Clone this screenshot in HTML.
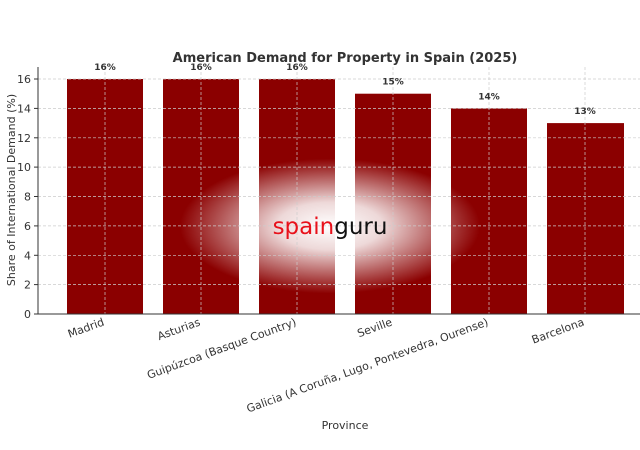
<!DOCTYPE html><html><head><style>body{margin:0;background:#fff}svg{display:block}</style></head><body>
<svg width="640" height="450" xmlns="http://www.w3.org/2000/svg" font-family="DejaVu Sans, Liberation Sans, sans-serif">
<defs><radialGradient id="g" cx="330" cy="226" r="150" gradientUnits="userSpaceOnUse" gradientTransform="translate(330 226) scale(1 0.45) translate(-330 -226)">
<stop offset="0" stop-color="#fff" stop-opacity="1"/><stop offset="0.35" stop-color="#fff" stop-opacity="0.85"/><stop offset="1" stop-color="#fff" stop-opacity="0"/></radialGradient></defs>
<text x="345" y="62" text-anchor="middle" font-size="13" font-weight="bold" fill="#333">American Demand for Property in Spain (2025)</text>
<g fill="#8b0000">
<rect x="67" y="79" width="76" height="235"/><rect x="163" y="79" width="76" height="235"/><rect x="259" y="79" width="76" height="235"/>
<rect x="355" y="93.7" width="76" height="220.3"/><rect x="451" y="108.4" width="76" height="205.6"/><rect x="547" y="123.1" width="77" height="190.9"/></g>
<rect x="150" y="150" width="360" height="150" fill="url(#g)"/>
<g stroke="#ccc" stroke-width="0.7" stroke-dasharray="3,2">
<line x1="38" x2="640" y1="284.6" y2="284.6"/><line x1="38" x2="640" y1="255.3" y2="255.3"/><line x1="38" x2="640" y1="225.9" y2="225.9"/><line x1="38" x2="640" y1="196.5" y2="196.5"/><line x1="38" x2="640" y1="167.1" y2="167.1"/><line x1="38" x2="640" y1="137.8" y2="137.8"/><line x1="38" x2="640" y1="108.4" y2="108.4"/><line x1="38" x2="640" y1="79" y2="79"/>
<line x1="105" x2="105" y1="67" y2="314"/><line x1="201" x2="201" y1="67" y2="314"/><line x1="297" x2="297" y1="67" y2="314"/><line x1="393" x2="393" y1="67" y2="314"/><line x1="489" x2="489" y1="67" y2="314"/><line x1="585" x2="585" y1="67" y2="314"/></g>
<text x="330" y="234" text-anchor="middle" font-family="DejaVu Sans, sans-serif" font-size="23"><tspan fill="#e8111b">spain</tspan><tspan fill="#111">guru</tspan></text>
<g stroke="#333" stroke-width="1"><line x1="38" x2="38" y1="67" y2="314"/><line x1="38" x2="640" y1="314" y2="314"/>
<line x1="34" x2="38" y1="314" y2="314"/><line x1="34" x2="38" y1="284.6" y2="284.6"/><line x1="34" x2="38" y1="255.3" y2="255.3"/><line x1="34" x2="38" y1="225.9" y2="225.9"/><line x1="34" x2="38" y1="196.5" y2="196.5"/><line x1="34" x2="38" y1="167.1" y2="167.1"/><line x1="34" x2="38" y1="137.8" y2="137.8"/><line x1="34" x2="38" y1="108.4" y2="108.4"/><line x1="34" x2="38" y1="79" y2="79"/></g>
<g font-size="11" fill="#333" text-anchor="end">
<text x="31" y="318">0</text><text x="31" y="288.6">2</text><text x="31" y="259.3">4</text><text x="31" y="229.9">6</text><text x="31" y="200.5">8</text><text x="31" y="171.1">10</text><text x="31" y="141.8">12</text><text x="31" y="112.4">14</text><text x="31" y="83">16</text></g>
<g font-size="9" font-weight="bold" fill="#333" text-anchor="middle">
<text x="105" y="70">16%</text><text x="201" y="70">16%</text><text x="297" y="70">16%</text><text x="393" y="84.7">15%</text><text x="489" y="99.4">14%</text><text x="585" y="114.1">13%</text></g>
<g font-size="11" fill="#333" text-anchor="end">
<text transform="translate(105 325) rotate(-20)">Madrid</text>
<text transform="translate(201 325) rotate(-20)">Asturias</text>
<text transform="translate(297 325) rotate(-20)">Guipúzcoa (Basque Country)</text>
<text transform="translate(393 325) rotate(-20)">Seville</text>
<text transform="translate(489 325) rotate(-20)">Galicia (A Coruña, Lugo, Pontevedra, Ourense)</text>
<text transform="translate(585 325) rotate(-20)">Barcelona</text></g>
<text x="345" y="429" text-anchor="middle" font-size="11" fill="#333">Province</text>
<text transform="translate(15 190) rotate(-90)" text-anchor="middle" font-size="11" fill="#333">Share of International Demand (%)</text>
</svg></body></html>
